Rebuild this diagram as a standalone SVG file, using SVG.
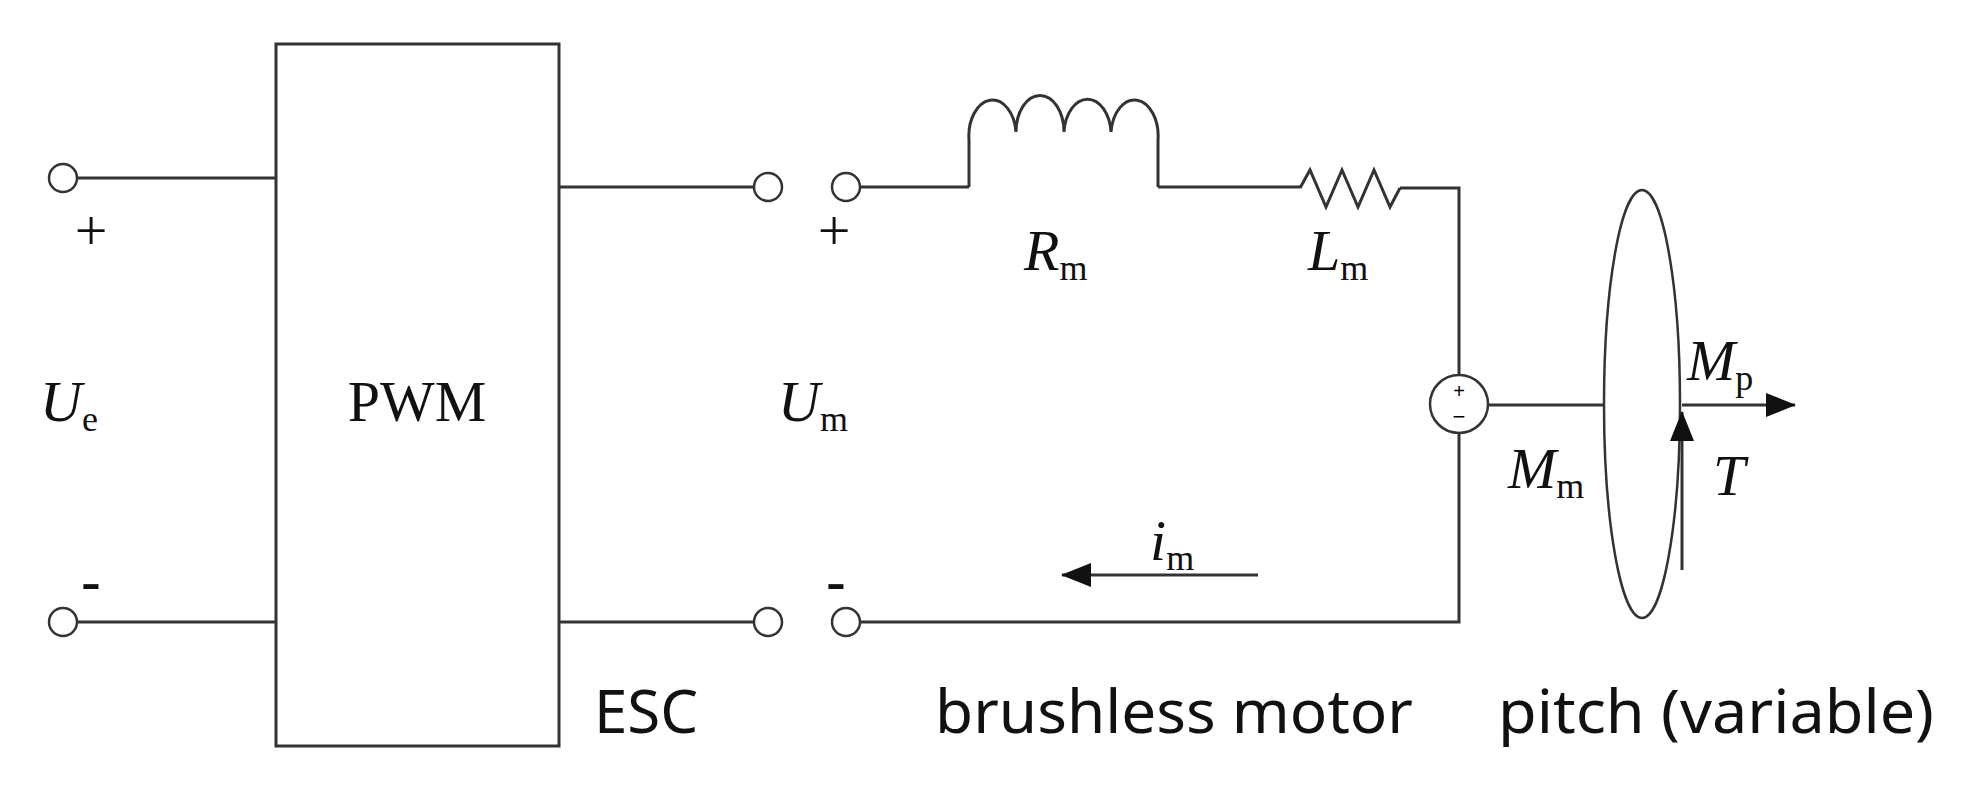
<svg xmlns="http://www.w3.org/2000/svg" width="1982" height="803" viewBox="0 0 1982 803">
<style>
.w{fill:none;stroke:#333;stroke-width:3}
.t{fill:none;stroke:#333;stroke-width:2.5}
.i{font-family:"Liberation Serif",serif;font-style:italic;font-size:58px;fill:#111}
.s{font-family:"Liberation Serif",serif;font-style:normal;font-size:36px}
.r{font-family:"Liberation Serif",serif;font-size:58px;fill:#111}
.l{font-family:"Noto Sans",sans-serif;font-size:60px;fill:#111}
</style>
<defs>
<marker id="ah" markerWidth="30" markerHeight="24" refX="29" refY="12" orient="auto" markerUnits="userSpaceOnUse" viewBox="0 0 30 24"><path d="M0,0L30,12L0,24z" fill="#111"/></marker>
</defs>
<rect width="1982" height="803" fill="#fff"/>
<g id="pwm"><rect x="276" y="44" width="283" height="702" class="w"/><text x="417" y="421" class="r" text-anchor="middle">PWM</text></g>
<g id="input">
<circle cx="63" cy="178" r="14" class="t"/><circle cx="63" cy="622" r="14" class="t"/>
<text x="91" y="250" class="r" text-anchor="middle">+</text><text x="91" y="600" class="r" text-anchor="middle" font-weight="bold">-</text>
<text x="40" y="421" class="i">U<tspan class="s" dy="10">e</tspan></text>
</g>
<g id="esc-out">
<circle cx="768" cy="187" r="14" class="t"/><circle cx="768" cy="622" r="14" class="t"/>
<circle cx="846" cy="187" r="14" class="t"/><circle cx="846" cy="622" r="14" class="t"/>
<text x="834" y="250" class="r" text-anchor="middle">+</text><text x="836" y="600" class="r" text-anchor="middle" font-weight="bold">-</text>
<text x="778" y="421" class="i">U<tspan class="s" dy="10">m</tspan></text>
</g>
<g id="inductor"><path class="w" d="M969,187V140A23.6,36 0 0 1 1016,132A23.6,36 0 0 1 1064,132A23.6,36 0 0 1 1111,132A23.6,36 0 0 1 1158,140V187"/>
<text x="1024" y="270" class="i">R<tspan class="s" dy="10">m</tspan></text></g>
<g id="resistor"><path class="w" d="M1300,188L1310,170L1326,207L1342,170L1358,207L1374,170L1390,207L1400,188"/>
<text x="1308" y="270" class="i">L<tspan class="s" dy="10">m</tspan></text></g>
<g id="source"><circle cx="1459" cy="404" r="29" class="t"/>
<text x="1459" y="398" font-family="Liberation Sans,sans-serif" font-size="20" text-anchor="middle">+</text>
<text x="1459" y="424" font-family="Liberation Sans,sans-serif" font-size="22" text-anchor="middle">−</text></g>
<g id="propeller"><ellipse cx="1642" cy="404" rx="38" ry="214" class="t"/>
<text x="1687" y="380" class="i">M<tspan class="s" dy="10">p</tspan></text>
<text x="1508" y="488" class="i">M<tspan class="s" dy="10">m</tspan></text>
<text x="1713" y="495" class="i">T</text></g>
<g id="connectors">
<path class="w" d="M77,178H276M77,622H276M559,187H754M559,622H754M860,187H969M1158,187H1300M1400,188H1459V375M1459,433V622H860M1488,405H1604"/>
<path class="w" d="M1682,405H1795" marker-end="url(#ah)"/>
<path class="w" d="M1682,570V412" marker-end="url(#ah)"/>
<path class="w" d="M1258,575H1062" marker-end="url(#ah)"/>
</g>
<text x="1150" y="560" class="i">i<tspan class="s" dy="10">m</tspan></text>
<g id="labels">
<text x="594" y="733" class="l">ESC</text>
<text x="935" y="733" class="l" textLength="478" lengthAdjust="spacingAndGlyphs">brushless motor</text>
<text x="1498" y="733" class="l" textLength="436" lengthAdjust="spacingAndGlyphs">pitch (variable)</text>
</g>
</svg>
